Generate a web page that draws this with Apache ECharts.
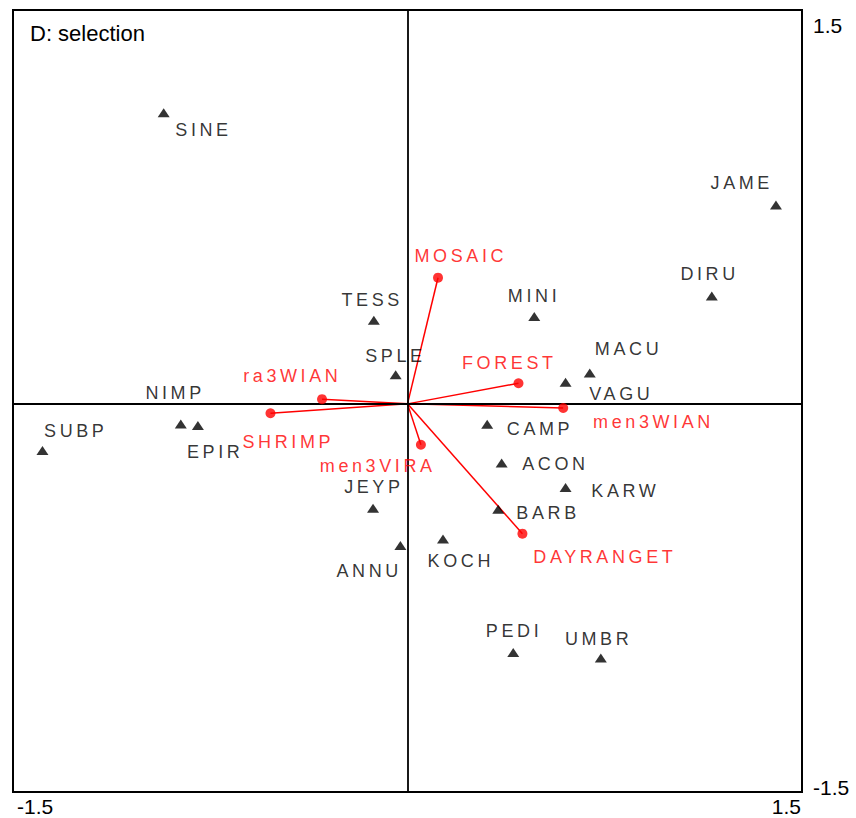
<!DOCTYPE html>
<html><head><meta charset="utf-8">
<script src="https://cdn.jsdelivr.net/npm/echarts@6/dist/echarts.min.js"></script>
<style>html,body{margin:0;padding:0;background:#fff}#c{width:856px;height:818px}</style>
</head><body><div id="c"></div>
<script>
// ---- data ----
const speciesNames = ['SINE','JAME','DIRU','MINI','TESS','SPLE','MACU','VAGU','NIMP','EPIR','SUBP','CAMP','ACON','KARW','BARB','JEYP','ANNU','KOCH','PEDI','UMBR'];
const speciesX = [-0.927,1.401,1.157,0.482,-0.128,-0.045,0.693,0.601,-0.862,-0.797,-1.388,0.303,0.358,0.601,0.345,-0.131,-0.027,0.135,0.402,0.735];
const speciesY = [1.117,0.763,0.414,0.335,0.321,0.112,0.118,0.083,-0.077,-0.083,-0.179,-0.078,-0.227,-0.321,-0.404,-0.400,-0.543,-0.518,-0.954,-0.975];
const envNames = ['MOSAIC','FOREST','men3WIAN','ra3WIAN','SHRIMP','men3VIRA','DAYRANGET'];
const envX = [0.116,0.422,0.592,-0.325,-0.521,0.051,0.437];
const envY = [0.484,0.079,-0.016,0.018,-0.036,-0.157,-0.498];
const xTickLabels = ['-1.5','1.5'];
const yTickLabels = ['-1.5','1.5'];
const panelTitle = 'D: selection';

// ---- label placement (style only, pixel offsets from the mark) ----
const speciesLabelOffset = {
  SINE:[38,17], JAME:[-36,-22], DIRU:[-4,-22], MINI:[-2,-21], TESS:[-3.5,-20], SPLE:[-2,-19],
  MACU:[37,-24], VAGU:[54,11.5], NIMP:[-7.5,-31], EPIR:[15.5,26.5], SUBP:[31.5,-19.4],
  CAMP:[51,4.5], ACON:[52,1], KARW:[58,3.3], BARB:[48,4], JEYP:[-1,-21], ANNU:[-33,25.5],
  KOCH:[16,22], PEDI:[-1,-21.5], UMBR:[-4,-19]
};
const envLabelOffset = {
  MOSAIC:[21,-22], FOREST:[-11,-20], men3WIAN:[88.5,13.7], ra3WIAN:[-31.5,-23],
  SHRIMP:[16,28.4], men3VIRA:[-45,21.7], DAYRANGET:[80.6,23]
};
const FONT = 'Liberation Sans, Arial, sans-serif';
const SPACING = 3.6;
const RED = '#ff0000';

const chart = echarts.init(document.getElementById('c'), null, {renderer:'svg', width:856, height:818});

const speciesData = speciesNames.map((n,i)=>({
  name:n, value:[speciesX[i], speciesY[i]],
  label:{offset:[speciesLabelOffset[n][0]+SPACING/2, speciesLabelOffset[n][1]]}
}));
const envData = envNames.map((n,i)=>({
  name:n, value:[envX[i], envY[i]],
  label:{offset:[envLabelOffset[n][0]+SPACING/2, envLabelOffset[n][1]]}
}));
const envLines = envNames.map((n,i)=>({coords:[[0,0],[envX[i], envY[i]]]}));

chart.setOption({
  animation:false,
  backgroundColor:'#fff',
  title:{text:panelTitle, left:30, top:22, padding:0,
    textStyle:{fontSize:22, fontWeight:'normal', color:'#000', fontFamily:FONT}},
  grid:{left:13, top:10, right:54, bottom:26, show:true, borderColor:'#000', borderWidth:2, containLabel:false},
  xAxis:{type:'value', min:-1.5, max:1.5, interval:3,
    axisLine:{show:false}, axisTick:{show:false}, splitLine:{show:false},
    axisLabel:{color:'#000', fontSize:21, fontFamily:FONT, margin:4,
      alignMinLabel:'left', alignMaxLabel:'right',
      formatter:(v)=> v<0 ? '{l|'+xTickLabels[0]+'}' : '{r|'+xTickLabels[1]+'}',
      rich:{l:{padding:[0,0,0,4], fontSize:21, color:'#000', fontFamily:FONT},
            r:{padding:[0,1,0,0], fontSize:21, color:'#000', fontFamily:FONT}}}},
  yAxis:{type:'value', position:'right', min:-1.489, max:1.511, interval:3,
    axisLine:{show:false}, axisTick:{show:false}, splitLine:{show:false},
    axisLabel:{color:'#000', fontSize:21, fontFamily:FONT, margin:11,
      formatter:(v)=> v>0 ? '{t|'+yTickLabels[1]+'}' : '{b|'+yTickLabels[0]+'}',
      rich:{t:{padding:[30,0,0,0], fontSize:21, color:'#000', fontFamily:FONT},
            b:{padding:[0,0,9,0], fontSize:21, color:'#000', fontFamily:FONT}}}},
  series:[
    {type:'line', data:[], z:1, silent:true,
      markLine:{silent:true, symbol:['none','none'], label:{show:false},
        lineStyle:{color:'#000', width:1.8, type:'solid'},
        emphasis:{disabled:true},
        data:[{xAxis:0},{yAxis:0}]}},
    {type:'lines', coordinateSystem:'cartesian2d', z:3, silent:true,
      lineStyle:{color:RED, width:1.5, opacity:1, curveness:0},
      data:envLines},
    {type:'scatter', z:4, silent:true, symbol:'triangle', symbolSize:[12,9],
      itemStyle:{color:'#000'},
      label:{show:true, position:'inside', formatter:'{b}', color:'#000', fontSize:18, fontFamily:FONT},
      emphasis:{disabled:true},
      data:speciesData},
    {type:'scatter', z:5, silent:true, symbol:'circle', symbolSize:10,
      itemStyle:{color:RED},
      label:{show:true, position:'inside', formatter:'{b}', color:RED, fontSize:18, fontFamily:FONT},
      emphasis:{disabled:true},
      data:envData}
  ]
});

const spaced = new Set([...speciesNames, ...envNames]);
function applySpacing(){
  document.querySelectorAll('#c svg text').forEach(t=>{
    if (spaced.has(t.textContent.trim())) t.style.letterSpacing = SPACING+'px';
  });
}
applySpacing();
chart.on('finished', applySpacing);
setTimeout(applySpacing, 50);
</script>
</body></html>
